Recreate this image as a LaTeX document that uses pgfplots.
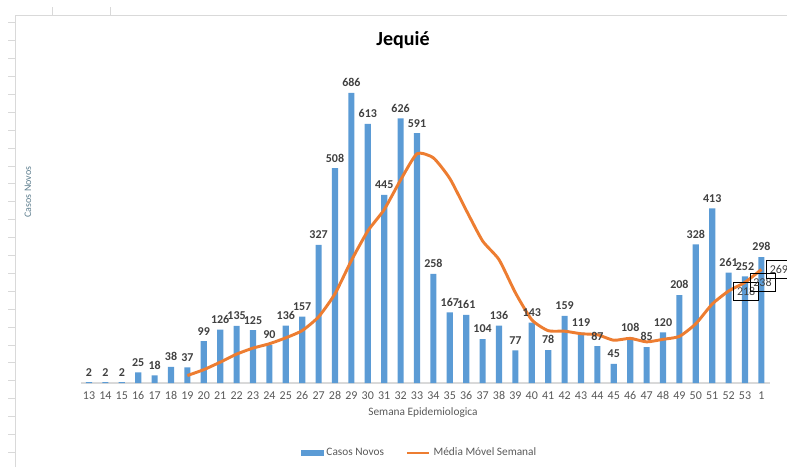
\documentclass[border=0pt]{standalone}
\usepackage{pgfplots}
\usepackage{pgfplotstable}
\pgfplotsset{compat=1.18}
\usepackage{fontspec}
\setmainfont{Carlito}

\definecolor{barblue}{HTML}{5B9BD5}
\definecolor{lineorange}{HTML}{ED7D31}
\definecolor{txtgray}{HTML}{595959}
\definecolor{lblgray}{HTML}{404040}
\definecolor{framegray}{HTML}{D9D9D9}
\definecolor{ylabcol}{HTML}{5F7F8F}

% weekly new cases, x = category index (13..53, then 1)
\pgfplotstableread{
x cases
0 2
1 2
2 2
3 25
4 18
5 38
6 37
7 99
8 126
9 135
10 125
11 90
12 136
13 157
14 327
15 508
16 686
17 613
18 445
19 626
20 591
21 258
22 167
23 161
24 104
25 136
26 77
27 143
28 78
29 159
30 119
31 87
32 45
33 108
34 85
35 120
36 208
37 328
38 413
39 261
40 252
41 298
}\casos

% weekly moving average (7 weeks)
\pgfplotstableread{
x avg
6 17.71
7 31.57
8 49.29
9 68.29
10 82.57
11 92.86
12 106.86
13 124.00
14 156.57
15 211.14
16 289.86
17 359.57
18 410.29
19 480.29
20 542.29
21 532.43
22 483.71
23 408.71
24 336.00
25 291.86
26 213.43
27 149.43
28 123.71
29 122.57
30 116.57
31 114.14
32 101.14
33 105.57
34 97.29
35 103.29
36 110.29
37 140.14
38 186.71
39 217.57
40 238.14
41 268.57
}\media

\pgfplotstableread{
x avg lab
39 217.57 218
40 238.14 238
41 268.57 269
}\medialab

\begin{document}
\begin{tikzpicture}
\useasboundingbox (0,0) rectangle (590.25pt,350.25pt);

% chart area border and sheet grid marks
\draw[framegray, line width=0.6pt] (11.25pt,0) -- (11.25pt,339pt) -- (590.25pt,339pt);
\foreach \i in {0,...,24}{
  \draw[framegray, line width=0.5pt] (6pt,{350.25pt-(22.7pt+17.9pt*\i)*0.75}) -- (11.25pt,{350.25pt-(22.7pt+17.9pt*\i)*0.75});
}
\draw[framegray, line width=0.5pt] (39pt,339pt) -- (39pt,345pt);
\draw[framegray, line width=0.5pt] (82.5pt,339pt) -- (82.5pt,345pt);

\begin{axis}[
  at={(60.6pt,63pt)},
  anchor=south west,
  scale only axis,
  width=516.6pt,
  height=253.65pt,
  xmin=-0.5, xmax=41.5,
  ymin=0, ymax=800,
  axis x line*=bottom,
  axis y line=none,
  x axis line style={framegray, line width=0.8pt},
  xtick={0,...,41},
  xticklabels={13,14,15,16,17,18,19,20,21,22,23,24,25,26,27,28,29,30,31,32,33,34,35,36,37,38,39,40,41,42,43,44,45,46,47,48,49,50,51,52,53,1},
  major tick length=0pt,
  x tick label style={font=\fontsize{9}{10}\selectfont, text=txtgray, yshift=-3pt},
  /pgf/number format/assume math mode=true,
  clip=false,
  legend style={
    at={(0.4925,-0.207)}, anchor=center,
    draw=none, fill=none,
    font=\fontsize{8.5}{10}\selectfont, text=txtgray,
    legend columns=2,
    /tikz/every even column/.append style={column sep=14pt},
  },
  legend cell align=left,
]

\addplot[
  ybar, bar width=4.6pt, fill=barblue, draw=none,
  nodes near coords,
  nodes near coords style={font=\fontsize{9}{10}\selectfont\bfseries, text=lblgray, yshift=1pt},
  legend image code/.code={\fill[barblue] (0pt,-2.2pt) rectangle (17pt,2.2pt);},
] table[x=x, y=cases] {\casos};
\addlegendentry{Casos Novos}

\addplot[
  lineorange, line width=2.2pt, smooth, tension=0.35, mark=none,
  legend image code/.code={\draw[lineorange, line width=2.2pt] (0pt,0pt) -- (17pt,0pt);},
] table[x=x, y=avg] {\media};
\addlegendentry{Média Móvel Semanal}

\addplot[
  draw=none, mark=none, forget plot,
  point meta=explicit symbolic,
  nodes near coords,
  nodes near coords align={anchor=west},
  nodes near coords style={font=\fontsize{9}{10}\selectfont, text=lblgray,
    draw=black, line width=0.6pt, anchor=west, xshift=3.5pt, inner xsep=2.5pt,
    minimum height=13.5pt},
] table[x=x, y=avg, meta=lab] {\medialab};

\end{axis}

\node[font=\fontsize{15}{18}\selectfont\bfseries] at (302.25pt,320.25pt) {Jequié};
\node[font=\fontsize{7.5}{9}\selectfont, text=ylabcol, rotate=90] at (21pt,206.25pt) {Casos Novos};
\node[font=\fontsize{8.5}{10}\selectfont, text=txtgray] at (317.25pt,40.5pt) {Semana Epidemiologica};
\end{tikzpicture}
\end{document}
